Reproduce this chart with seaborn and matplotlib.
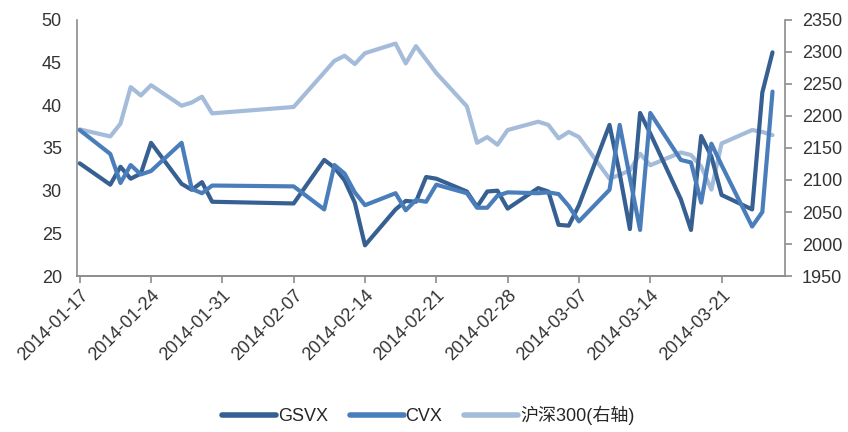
import pandas as pd
import numpy as np
import matplotlib.pyplot as plt
import matplotlib.dates as mdates
import seaborn as sns
from matplotlib.lines import Line2D

# 交易日（春节休市 1/31-2/6）
dates = ['2014-01-17', '2014-01-20', '2014-01-21', '2014-01-22', '2014-01-23',
         '2014-01-24', '2014-01-27', '2014-01-28', '2014-01-29', '2014-01-30',
         '2014-02-07', '2014-02-10', '2014-02-11', '2014-02-12', '2014-02-13',
         '2014-02-14', '2014-02-17', '2014-02-18', '2014-02-19', '2014-02-20',
         '2014-02-21', '2014-02-24', '2014-02-25', '2014-02-26', '2014-02-27',
         '2014-02-28', '2014-03-03', '2014-03-04', '2014-03-05', '2014-03-06',
         '2014-03-07', '2014-03-10', '2014-03-11', '2014-03-12', '2014-03-13',
         '2014-03-14', '2014-03-17', '2014-03-18', '2014-03-19', '2014-03-20',
         '2014-03-21', '2014-03-24', '2014-03-25', '2014-03-26']

gsvx = [33.2, 30.7, 32.8, 31.4, 32.0, 35.6, 30.8, 30.1, 31.0, 28.7,
        28.5, 33.6, 32.7, 31.2, 28.6, 23.6, 27.8, 28.8, 28.7, 31.6,
        31.4, 29.9, 28.1, 29.9, 30.0, 27.9, 30.3, 29.9, 26.0, 25.9,
        28.3, 37.7, 32.0, 25.5, 39.1, 36.7, 29.0, 25.4, 36.4, 34.0,
        29.5, 27.8, 41.5, 46.2]

cvx = [37.1, 34.3, 30.9, 33.0, 31.9, 32.3, 35.6, 30.2, 29.7, 30.6,
       30.5, 27.8, 33.0, 32.0, 29.8, 28.3, 29.7, 27.7, 28.9, 28.7,
       30.7, 29.7, 28.0, 28.0, 29.4, 29.8, 29.7, 29.8, 29.6, 28.2,
       26.4, 30.1, 37.7, 31.5, 25.4, 39.1, 33.6, 33.3, 28.6, 35.5,
       33.0, 25.8, 27.5, 41.6]

hs300 = [2179, 2168, 2188, 2245, 2232, 2248, 2216, 2221, 2230, 2204,
         2214, 2268, 2286, 2294, 2281, 2298, 2313, 2282, 2309, 2288,
         2267, 2215, 2158, 2167, 2155, 2178, 2191, 2186, 2165, 2175,
         2167, 2102, 2108, 2115, 2141, 2123, 2143, 2139, 2121, 2085,
         2157, 2178, 2175, 2170]

tick_dates = ['2014-01-17', '2014-01-24', '2014-01-31', '2014-02-07', '2014-02-14',
              '2014-02-21', '2014-02-28', '2014-03-07', '2014-03-14', '2014-03-21']

names = ['GSVX', 'CVX', '沪深300(右轴)']
colors = ['#376092', '#4A7EBB', '#A5BBDA']

sns.set_theme(style='ticks')
plt.rcParams['font.family'] = ['Liberation Sans', 'Noto Sans CJK SC', 'DejaVu Sans']

df = pd.DataFrame({'date': pd.to_datetime(dates), 'GSVX': gsvx, 'CVX': cvx, 'HS300': hs300})

fig = plt.figure(figsize=(8.48, 4.32), dpi=100)
ax = fig.add_axes([0.091, 0.361, 0.835, 0.593])
ax2 = ax.twinx()

lw = 3.0
sns.lineplot(data=df, x='date', y='HS300', ax=ax2, color=colors[2], lw=lw)
sns.lineplot(data=df, x='date', y='GSVX', ax=ax, color=colors[0], lw=lw)
sns.lineplot(data=df, x='date', y='CVX', ax=ax, color=colors[1], lw=lw)
# 左轴放在右轴之上
ax.set_zorder(ax2.get_zorder() + 1)
ax.patch.set_visible(False)

ax.set_ylim(20, 50)
ax.set_yticks(np.arange(20, 51, 5))
ax2.set_ylim(1950, 2350)
ax2.set_yticks(np.arange(1950, 2351, 50))

x0 = pd.Timestamp('2014-01-16 18:00')
x1 = pd.Timestamp('2014-03-27 06:00')
ax.set_xlim(x0, x1)
ax.set_xticks(pd.to_datetime(tick_dates))
ax.xaxis.set_major_formatter(mdates.DateFormatter('%Y-%m-%d'))
plt.setp(ax.get_xticklabels(), rotation=45, ha='right', rotation_mode='anchor')

for a in (ax, ax2):
    a.set_xlabel('')
    a.set_ylabel('')
    for s in a.spines.values():
        s.set_color('#8C8C8C')
        s.set_linewidth(1.2)
    a.spines['top'].set_visible(False)
    a.tick_params(colors='#8C8C8C', labelcolor='#333333', labelsize=13, length=5, width=1.2)
ax.spines['right'].set_visible(False)
ax2.spines['left'].set_visible(False)
ax.tick_params(axis='y', length=0, pad=11)
ax2.tick_params(axis='y', pad=7)
ax.tick_params(axis='x', labelsize=13, pad=3)

handles = [Line2D([], [], color=c, lw=4) for c in colors]
fig.legend(handles, names, loc='center', bbox_to_anchor=(0.505, 0.038), ncol=3,
           frameon=False, fontsize=13, handlelength=3.0, handletextpad=0.1,
           columnspacing=1.2)

fig.savefig('out.png', dpi=100)
